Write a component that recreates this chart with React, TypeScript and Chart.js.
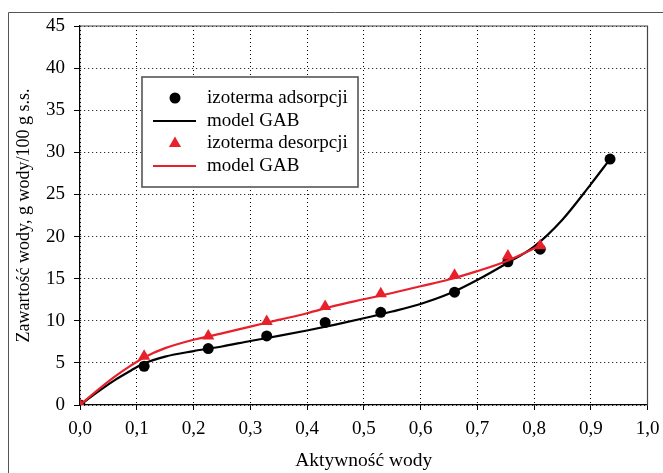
import React, { useEffect, useRef } from "react";
import { Chart, registerables } from "chart.js";

Chart.register(...registerables);

// ---- data ----
const awAdsorption = [0, 0.113, 0.226, 0.329, 0.432, 0.530, 0.660, 0.754, 0.811, 0.934];
const mAdsorption = [0, 4.6, 6.7, 8.2, 9.8, 11.0, 13.4, 17.0, 18.5, 29.2];

const awDesorption = [0, 0.113, 0.226, 0.329, 0.432, 0.530, 0.660, 0.754, 0.811];
const mDesorption = [0, 5.8, 8.2, 9.9, 11.7, 13.2, 15.4, 17.7, 18.9];

const awGabAds = [0, 0.03, 0.06, 0.09, 0.113, 0.15, 0.2, 0.25, 0.3, 0.35, 0.4, 0.45, 0.5, 0.55, 0.6, 0.65, 0.7, 0.75, 0.8, 0.85, 0.9, 0.934];
const mGabAds = [0, 1.5, 2.9, 4.1, 4.95, 5.75, 6.4, 6.95, 7.6, 8.2, 8.85, 9.55, 10.3, 11.1, 12.0, 13.2, 14.85, 16.75, 18.8, 22.0, 26.2, 29.2];

const awGabDes = [0, 0.03, 0.06, 0.09, 0.113, 0.15, 0.2, 0.25, 0.3, 0.35, 0.4, 0.45, 0.5, 0.55, 0.6, 0.65, 0.7, 0.75, 0.81];
const mGabDes = [0, 1.7, 3.3, 4.7, 5.65, 6.75, 7.75, 8.5, 9.3, 10.1, 10.9, 11.8, 12.55, 13.3, 14.1, 14.9, 15.9, 17.05, 18.9];

const seriesLabels = ["izoterma adsorpcji", "model GAB", "izoterma desorpcji", "model GAB"];
const xTitle = "Aktywność wody";
const yTitle = "Zawartość wody, g wody/100 g s.s.";
const xMin = 0, xMax = 1, xStep = 0.1;
const yMin = 0, yMax = 45, yStep = 5;

const RED = "#E8202A";
const FONT = "'Liberation Serif', 'DejaVu Serif', serif";

const toXY = (xs: number[], ys: number[]) => xs.map((x, i) => ({ x, y: ys[i] }));

const framePlugin = {
  id: "framePlugin",
  beforeDraw(chart: any) {
    const { ctx, width, height } = chart;
    ctx.save();
    ctx.fillStyle = "#fff";
    ctx.fillRect(0, 0, width, height);
    ctx.strokeStyle = "#555";
    ctx.lineWidth = 1;
    ctx.beginPath();
    ctx.moveTo(8.5, height);
    ctx.lineTo(8.5, 12.5);
    ctx.lineTo(width, 12.5);
    ctx.stroke();
    ctx.restore();
  },
  afterDraw(chart: any) {
    const { ctx, chartArea } = chart;
    const { left, right, top, bottom } = chartArea;
    ctx.save();
    ctx.strokeStyle = "#444";
    ctx.lineWidth = 1.2;
    ctx.beginPath();
    ctx.moveTo(left, top);
    ctx.lineTo(right, top);
    ctx.lineTo(right, bottom);
    ctx.stroke();

    // legend box
    const bx = 142, by = 77, bw = 216, bh = 110;
    ctx.fillStyle = "#fff";
    ctx.fillRect(bx, by, bw, bh);
    ctx.strokeStyle = "#555";
    ctx.lineWidth = 1.6;
    ctx.strokeRect(bx, by, bw, bh);

    const rows = [98, 121, 143.5, 166];
    const mx = 175;
    ctx.font = `19px ${FONT}`;
    ctx.textBaseline = "middle";
    ctx.textAlign = "left";
    chart.data.datasets.forEach((ds: any, i: number) => {
      const y = rows[i];
      if (ds.showLine === false) {
        ctx.fillStyle = ds.pointBackgroundColor;
        ctx.beginPath();
        if (ds.pointStyle === "triangle") {
          const r = 7;
          ctx.moveTo(mx, y - r);
          ctx.lineTo(mx + r * Math.sin((2 * Math.PI) / 3), y - r * Math.cos((2 * Math.PI) / 3));
          ctx.lineTo(mx + r * Math.sin((4 * Math.PI) / 3), y - r * Math.cos((4 * Math.PI) / 3));
          ctx.closePath();
        } else {
          ctx.arc(mx, y, 5.5, 0, Math.PI * 2);
        }
        ctx.fill();
      } else {
        ctx.strokeStyle = ds.borderColor;
        ctx.lineWidth = 2.2;
        ctx.beginPath();
        ctx.moveTo(153, y);
        ctx.lineTo(196, y);
        ctx.stroke();
      }
      ctx.fillStyle = "#000";
      ctx.fillText(ds.label, 207, y);
    });
    ctx.restore();
  },
};

export default function App() {
  const ref = useRef<HTMLCanvasElement | null>(null);

  useEffect(() => {
    if (!ref.current) return;
    const chart = new Chart(ref.current, {
      type: "scatter",
      data: {
        datasets: [
          {
            label: seriesLabels[0],
            data: toXY(awAdsorption, mAdsorption),
            showLine: false,
            pointStyle: "circle",
            pointRadius: 5.5,
            pointBackgroundColor: "#000",
            pointBorderColor: "#000",
            pointBorderWidth: 0,
            order: 2,
          },
          {
            label: seriesLabels[1],
            data: toXY(awGabAds, mGabAds),
            showLine: true,
            borderColor: "#000",
            borderWidth: 2.2,
            pointRadius: 0,
            cubicInterpolationMode: "monotone",
            order: 3,
          },
          {
            label: seriesLabels[2],
            data: toXY(awDesorption, mDesorption),
            showLine: false,
            pointStyle: "triangle",
            pointRadius: 7,
            pointBackgroundColor: RED,
            pointBorderColor: RED,
            pointBorderWidth: 0,
            order: 0,
          },
          {
            label: seriesLabels[3],
            data: toXY(awGabDes, mGabDes),
            showLine: true,
            borderColor: RED,
            borderWidth: 2.2,
            pointRadius: 0,
            cubicInterpolationMode: "monotone",
            order: 1,
          },
        ] as any,
      },
      options: {
        animation: false,
        responsive: false,
        devicePixelRatio: 1,
        layout: { padding: { left: 0, top: 26, right: 15.5, bottom: 0 } },
        plugins: {
          legend: { display: false },
          tooltip: { enabled: false },
        },
        scales: {
          x: {
            type: "linear",
            min: xMin,
            max: xMax,
            afterFit: (s: any) => {
              s.height = 68;
              s.paddingLeft = 0;
              s.paddingRight = 0;
            },
            ticks: {
              stepSize: xStep,
              color: "#000",
              padding: 8,
              font: { family: FONT, size: 19 },
              callback: (v: any) => Number(v).toFixed(1).replace(".", ","),
            },
            grid: {
              color: "#000",
              lineWidth: 1,
              drawTicks: true,
              tickLength: 5,
              tickColor: "#000",
              tickWidth: 1,
            },
            border: { display: true, color: "#000", width: 1.2, dash: [1, 3] },
            title: {
              display: true,
              text: xTitle,
              color: "#000",
              font: { family: FONT, size: 19.5 },
              padding: { top: 0, bottom: 0 },
            },
          },
          y: {
            type: "linear",
            min: yMin,
            max: yMax,
            afterFit: (s: any) => {
              s.width = 80;
              s.paddingTop = 0;
              s.paddingBottom = 0;
            },
            ticks: {
              stepSize: yStep,
              color: "#000",
              padding: 9,
              font: { family: FONT, size: 19 },
            },
            grid: {
              color: "#000",
              lineWidth: 1,
              drawTicks: true,
              tickLength: 6,
              tickColor: "#000",
              tickWidth: 1,
            },
            border: { display: true, color: "#000", width: 1.2, dash: [1, 3] },
            title: {
              display: true,
              text: yTitle,
              color: "#000",
              font: { family: FONT, size: 18 },
              padding: { top: 13, bottom: 0 },
            },
          },
        },
      },
      plugins: [framePlugin],
    });
    return () => chart.destroy();
  }, []);

  return (
    <div style={{ position: "absolute", left: 0, top: 0, width: 663, height: 473 }}>
      <canvas ref={ref} width={663} height={473} style={{ width: 663, height: 473, display: "block" }} />
    </div>
  );
}
